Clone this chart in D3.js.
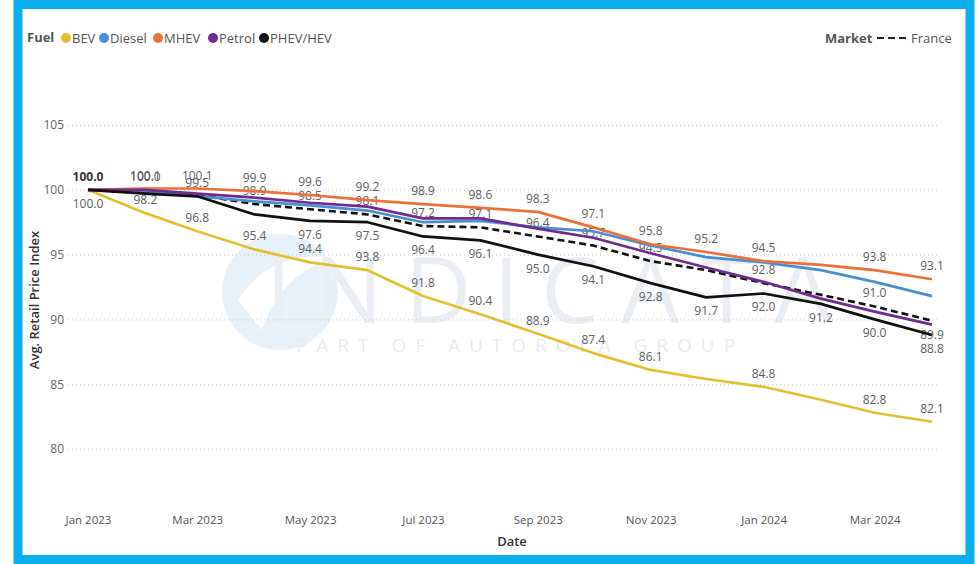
<!DOCTYPE html>
<html>
<head>
<meta charset="utf-8">
<script src="https://cdn.jsdelivr.net/npm/d3@7"></script>
<style>
  body { margin: 0; background: #fff; }
  text { font-family: "Open Sans", "Noto Sans", sans-serif; }
</style>
</head>
<body>
<svg id="chart" width="977" height="564"></svg>
<script>
// data (index values, Jan 2023 = 100)
const months = ["2023-01", "2023-02", "2023-03", "2023-04", "2023-05", "2023-06", "2023-07", "2023-08",
  "2023-09", "2023-10", "2023-11", "2023-12", "2024-01", "2024-02", "2024-03", "2024-04"];
const bev    = [100.0, 98.2, 96.8, 95.4, 94.4, 93.8, 91.8, 90.4, 88.9, 87.4, 86.1, 85.4, 84.8, 83.8, 82.8, 82.1];
const diesel = [100.0, 99.9, 99.5, 99.1, 98.8, 98.4, 97.5, 97.6, 97.1, 96.8, 95.7, 94.8, 94.4, 93.8, 92.9, 91.8];
const mhev   = [100.0, 100.1, 100.1, 99.9, 99.6, 99.2, 98.9, 98.6, 98.3, 97.1, 95.8, 95.2, 94.5, 94.2, 93.8, 93.1];
const petrol = [100.0, 100.0, 99.7, 99.4, 99.0, 98.7, 97.8, 97.8, 97.0, 96.3, 95.1, 94.0, 92.9, 91.6, 90.6, 89.6];
const phev   = [100.0, 99.7, 99.5, 98.1, 97.6, 97.5, 96.4, 96.1, 95.0, 94.1, 92.8, 91.7, 92.0, 91.2, 90.0, 88.8];
const france = [100.0, 99.8, 99.6, 98.9, 98.5, 98.1, 97.2, 97.1, 96.4, 95.7, 94.5, 93.8, 92.8, 91.9, 91.0, 89.9];
const yTicks = [80, 85, 90, 95, 100, 105];

const fuels = [
  { name: "BEV", values: bev, color: "#E2C032" },
  { name: "Diesel", values: diesel, color: "#4A8ED3" },
  { name: "MHEV", values: mhev, color: "#EA7239" },
  { name: "Petrol", values: petrol, color: "#6E2D8E" },
  { name: "PHEV/HEV", values: phev, color: "#111111" }
];

// which points carry a data label, and on which side
const labelSets = [
  { values: bev, above: [1, 2, 3, 4, 5, 6, 7, 8, 9, 10, 12, 14, 15], below: [0] },
  { values: mhev, above: [1, 2, 3, 4, 5, 6, 7, 8, 9, 10, 11, 12, 14, 15], below: [] },
  { values: france, above: [3, 4, 5, 6, 7, 8, 9, 10, 12, 14], below: [15] },
  { values: phev, above: [], below: [4, 5, 6, 7, 8, 9, 10, 11, 12, 13, 14, 15] },
  { values: diesel, above: [2], below: [] },
  { values: petrol, above: [1], below: [] }
];

const svg = d3.select("#chart");
const parse = d3.timeParse("%Y-%m");
const dates = months.map(parse);

const x = d3.scaleTime()
  .domain([dates[0], dates[dates.length - 1]])
  .range([88, 932]);

const y = d3.scaleLinear()
  .domain([80, 105])
  .range([449, 125]);

// frame
svg.append("rect")
  .attr("x", 18).attr("y", 4.5)
  .attr("width", 952).attr("height", 555)
  .attr("fill", "#fff")
  .attr("stroke", "#0AAEEF")
  .attr("stroke-width", 9);

// watermark
const wm = svg.append("g").attr("opacity", 0.55);
wm.append("circle")
  .attr("cx", 280).attr("cy", 292).attr("r", 58)
  .attr("fill", "#d5e6f5");
wm.append("path")
  .attr("d", "M238,300 C262,262 300,252 334,258 C300,268 276,290 262,330 Z")
  .attr("fill", "#fff");
wm.append("text")
  .attr("x", 560).attr("y", 323)
  .attr("text-anchor", "middle")
  .attr("font-size", 92)
  .attr("letter-spacing", 22)
  .attr("fill", "#d9e0e8")
  .text("INDICATA");
wm.append("text")
  .attr("x", 520).attr("y", 352)
  .attr("text-anchor", "middle")
  .attr("font-size", 19)
  .attr("letter-spacing", 9)
  .attr("fill", "#d6dbe1")
  .text("PART OF AUTOROLA GROUP");

// y grid + labels
const yAxis = svg.append("g")
  .attr("transform", "translate(68,0)")
  .call(d3.axisLeft(y).tickValues(yTicks).tickSize(-870).tickPadding(4));
yAxis.select(".domain").remove();
yAxis.selectAll(".tick line")
  .attr("stroke", "#c8c8c8")
  .attr("stroke-dasharray", "1,3");
yAxis.selectAll(".tick text")
  .attr("font-size", 12)
  .attr("fill", "#666");

svg.append("text")
  .attr("transform", "translate(39,300) rotate(-90)")
  .attr("text-anchor", "middle")
  .attr("font-size", 13)
  .attr("font-weight", 600)
  .attr("fill", "#333")
  .text("Avg. Retail Price Index");

// x axis
const xAxis = svg.append("g")
  .attr("transform", "translate(0,508)")
  .call(d3.axisBottom(x)
    .ticks(d3.timeMonth.every(2))
    .tickFormat(d3.timeFormat("%b %Y"))
    .tickSize(0)
    .tickPadding(8));
xAxis.select(".domain").remove();
xAxis.selectAll(".tick text")
  .attr("font-size", 11.5)
  .attr("fill", "#555");

svg.append("text")
  .attr("x", 512).attr("y", 546)
  .attr("text-anchor", "middle")
  .attr("font-size", 13)
  .attr("font-weight", 600)
  .attr("fill", "#333")
  .text("Date");

// data labels (drawn under the lines, like the original)
const labels = svg.append("g")
  .attr("font-size", 12)
  .attr("fill", "#606060")
  .attr("text-anchor", "middle");

labelSets.forEach(s => {
  s.above.forEach(i => {
    labels.append("text")
      .attr("x", x(dates[i]))
      .attr("y", y(s.values[i]) - 9)
      .text(d3.format(".1f")(s.values[i]));
  });
  s.below.forEach(i => {
    labels.append("text")
      .attr("x", x(dates[i]))
      .attr("y", y(s.values[i]) + 18)
      .text(d3.format(".1f")(s.values[i]));
  });
});

labels.append("text")
  .attr("x", x(dates[0]))
  .attr("y", y(phev[0]) - 9)
  .attr("font-weight", 700)
  .attr("fill", "#333")
  .text(d3.format(".1f")(phev[0]));

// lines
const line = d3.line()
  .x((d, i) => x(dates[i]))
  .y(d => y(d));

svg.append("path")
  .datum(france)
  .attr("d", line)
  .attr("fill", "none")
  .attr("stroke", "#111")
  .attr("stroke-width", 2.6)
  .attr("stroke-dasharray", "7,4");

svg.selectAll(".fuel")
  .data(fuels)
  .enter()
  .append("path")
    .attr("class", "fuel")
    .attr("d", d => line(d.values))
    .attr("fill", "none")
    .attr("stroke", d => d.color)
    .attr("stroke-width", 2.7)
    .attr("stroke-linejoin", "round");

// legend: fuel
const leg = svg.append("g").attr("font-size", 13);
leg.append("text")
  .attr("x", 27).attr("y", 42)
  .attr("font-weight", 700)
  .attr("fill", "#555")
  .text("Fuel");

const legX = [66, 104, 158, 213, 264];
fuels.forEach((f, i) => {
  leg.append("circle")
    .attr("cx", legX[i]).attr("cy", 38).attr("r", 5)
    .attr("fill", f.color);
  leg.append("text")
    .attr("x", legX[i] + 6).attr("y", 42.5)
    .attr("fill", "#555")
    .text(f.name);
});

// legend: market
leg.append("text")
  .attr("x", 825).attr("y", 42.5)
  .attr("font-weight", 700)
  .attr("fill", "#555")
  .text("Market");
leg.append("line")
  .attr("x1", 877).attr("x2", 908)
  .attr("y1", 38).attr("y2", 38)
  .attr("stroke", "#222")
  .attr("stroke-width", 2)
  .attr("stroke-dasharray", "7,4");
leg.append("text")
  .attr("x", 911).attr("y", 42.5)
  .attr("fill", "#555")
  .text("France");
</script>
</body>
</html>
